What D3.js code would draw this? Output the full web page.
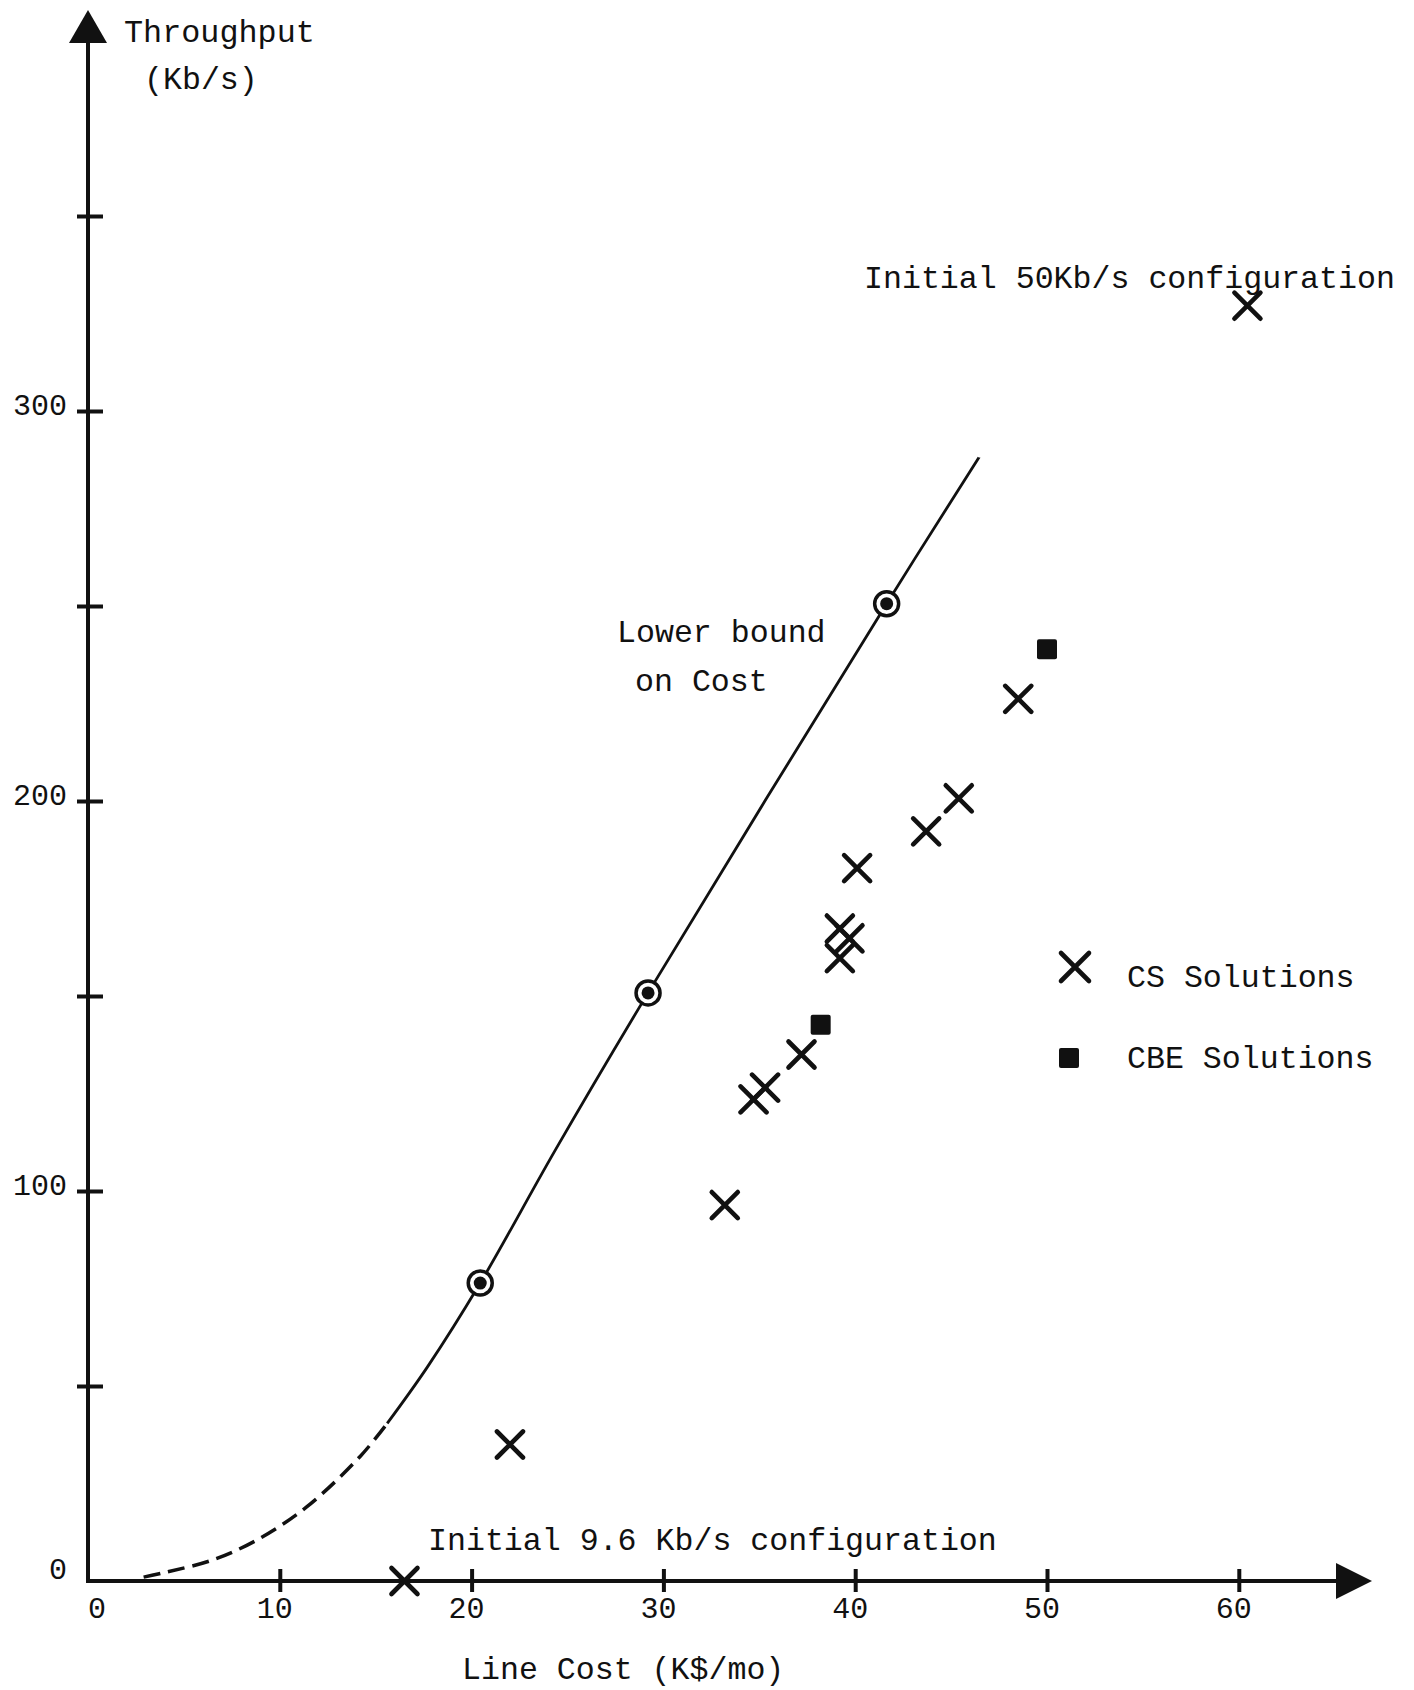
<!DOCTYPE html>
<html>
<head>
<meta charset="utf-8">
<script src="https://cdn.jsdelivr.net/npm/d3@7"></script>
<style>
  body { margin: 0; background: #fff; }
  svg { display: block; }
  text { font-family: "Liberation Mono", "Courier New", monospace; fill: #111; }
</style>
</head>
<body>
<div id="chart"></div>
<script>
// values (cost in K$/mo, throughput in Kb/s)
const csCost = [16.5, 22.0, 33.2, 34.7, 35.3, 37.2, 39.2, 39.7, 39.2, 40.1, 43.7, 45.4, 48.5, 60.45];
const csThroughput = [0, 35, 96.4, 123.5, 126.5, 135, 159.7, 164.8, 167.3, 182.8, 192.2, 200.7, 226.2, 327];

const cbeCost = [38.2, 50.0];
const cbeThroughput = [142.6, 238.9];

// lower bound curve, dashed part first then solid
const boundDashCost = [2.9, 4.1, 6.5, 8.8, 11.4, 14.2, 15.6];
const boundDashThroughput = [1.0, 2.3, 5.4, 10.5, 19.0, 32, 40.4];
const boundCost = [15.6, 17.7, 20.45, 24.4, 29.2, 41.64, 46.45];
const boundThroughput = [40.4, 54.9, 76.4, 110.8, 150.8, 250.6, 288.1];

// circled points on the bound
const optCost = [20.45, 29.2, 41.64];
const optThroughput = [76.4, 150.8, 250.6];

const xTicks = [0, 10, 20, 30, 40, 50, 60];
const yTicks = [50, 100, 150, 200, 250, 300, 350];
const yLabels = [0, 100, 200, 300];

const width = 1414, height = 1690;

const svg = d3.select("#chart").append("svg")
  .attr("width", width)
  .attr("height", height);

const x = d3.scaleLinear().domain([0, 60]).range([88, 1238.8]);
const y = d3.scaleLinear().domain([0, 300]).range([1581, 411]);

const ink = "#111";

// axes lines with arrow heads
const x0 = x(0), y0 = y(0);
svg.append("line")
  .attr("x1", x0).attr("y1", y0).attr("x2", 1340).attr("y2", y0)
  .attr("stroke", ink).attr("stroke-width", 4);
svg.append("path")
  .attr("d", `M1336,${y0 - 18} L1372,${y0} L1336,${y0 + 18} Z`)
  .attr("fill", ink);
svg.append("line")
  .attr("x1", x0).attr("y1", y0 + 2).attr("x2", x0).attr("y2", 40)
  .attr("stroke", ink).attr("stroke-width", 4);
svg.append("path")
  .attr("d", `M${x0 - 19},43 L${x0},10 L${x0 + 19},43 Z`)
  .attr("fill", ink);

// y axis ticks
const yAxis = svg.append("g")
  .attr("transform", `translate(${x0},0)`)
  .call(d3.axisLeft(y).tickValues(yTicks).tickSize(0).tickFormat(""));
yAxis.select(".domain").remove();
yAxis.selectAll(".tick line")
  .attr("x1", -11).attr("x2", 15)
  .attr("stroke", ink).attr("stroke-width", 4);

svg.append("g").selectAll("text")
  .data(yLabels)
  .join("text")
  .attr("x", 67)
  .attr("y", d => y(d) + (d === 0 ? -2 : 4))
  .attr("text-anchor", "end")
  .attr("font-size", 30)
  .text(d => d);

// x axis ticks
const xAxis = svg.append("g")
  .attr("transform", `translate(0,${y0})`)
  .call(d3.axisBottom(x).tickValues(xTicks.slice(1)).tickSize(0).tickFormat(""));
xAxis.select(".domain").remove();
xAxis.selectAll(".tick line")
  .attr("y1", -12).attr("y2", 11)
  .attr("stroke", ink).attr("stroke-width", 4);

svg.append("g").selectAll("text")
  .data(xTicks)
  .join("text")
  .attr("x", d => x(d) + (d === 0 ? 9 : -5))
  .attr("y", 1618)
  .attr("text-anchor", "middle")
  .attr("font-size", 30)
  .text(d => d);

// lower bound curve
const line = d3.line()
  .x(d => x(d[0]))
  .y(d => y(d[1]))
  .curve(d3.curveCatmullRom);

svg.append("path")
  .datum(d3.zip(boundDashCost, boundDashThroughput))
  .attr("d", line)
  .attr("fill", "none")
  .attr("stroke", ink)
  .attr("stroke-width", 3.5)
  .attr("stroke-dasharray", "17,8");

svg.append("path")
  .datum(d3.zip(boundCost, boundThroughput))
  .attr("d", line)
  .attr("fill", "none")
  .attr("stroke", ink)
  .attr("stroke-width", 2.8);

// circled points
const opt = svg.append("g").selectAll("g")
  .data(d3.zip(optCost, optThroughput))
  .join("g")
  .attr("transform", d => `translate(${x(d[0])},${y(d[1])})`);
opt.append("circle").attr("r", 12)
  .attr("fill", "#fff").attr("stroke", ink).attr("stroke-width", 3.5);
opt.append("circle").attr("r", 6.5).attr("fill", ink);

// CS solutions (crosses)
function crossPath(s) {
  return `M${-s},${-s} L${s},${s} M${-s},${s} L${s},${-s}`;
}
svg.append("g").selectAll("path")
  .data(d3.zip(csCost, csThroughput))
  .join("path")
  .attr("transform", d => `translate(${x(d[0])},${y(d[1])})`)
  .attr("d", crossPath(13))
  .attr("stroke", ink)
  .attr("stroke-width", 4.6)
  .attr("stroke-linecap", "round");

// CBE solutions (squares)
svg.append("g").selectAll("rect")
  .data(d3.zip(cbeCost, cbeThroughput))
  .join("rect")
  .attr("x", d => x(d[0]) - 10)
  .attr("y", d => y(d[1]) - 10)
  .attr("width", 20).attr("height", 20)
  .attr("rx", 2)
  .attr("fill", ink);

// legend
svg.append("path")
  .attr("transform", "translate(1075,967)")
  .attr("d", crossPath(14))
  .attr("stroke", ink).attr("stroke-width", 4.6).attr("stroke-linecap", "round");
svg.append("rect")
  .attr("x", 1059).attr("y", 1048).attr("width", 20).attr("height", 20)
  .attr("rx", 2).attr("fill", ink);
svg.append("text").attr("x", 1127).attr("y", 987).attr("font-size", 31.6).text("CS Solutions");
svg.append("text").attr("x", 1127).attr("y", 1068).attr("font-size", 31.6).text("CBE Solutions");

// annotations and axis titles
svg.append("text").attr("x", 124).attr("y", 42).attr("font-size", 31.8).text("Throughput");
svg.append("text").attr("x", 144).attr("y", 89).attr("font-size", 31.6).text("(Kb/s)");
svg.append("text").attr("x", 864).attr("y", 288).attr("font-size", 31.6).text("Initial 50Kb/s configuration");
svg.append("text").attr("x", 617).attr("y", 642).attr("font-size", 31.6).text("Lower bound");
svg.append("text").attr("x", 635).attr("y", 691).attr("font-size", 31.6).text("on Cost");
svg.append("text").attr("x", 428).attr("y", 1550).attr("font-size", 31.6).text("Initial 9.6 Kb/s configuration");
svg.append("text").attr("x", 462).attr("y", 1679).attr("font-size", 31.6).text("Line Cost (K$/mo)");
</script>
</body>
</html>
